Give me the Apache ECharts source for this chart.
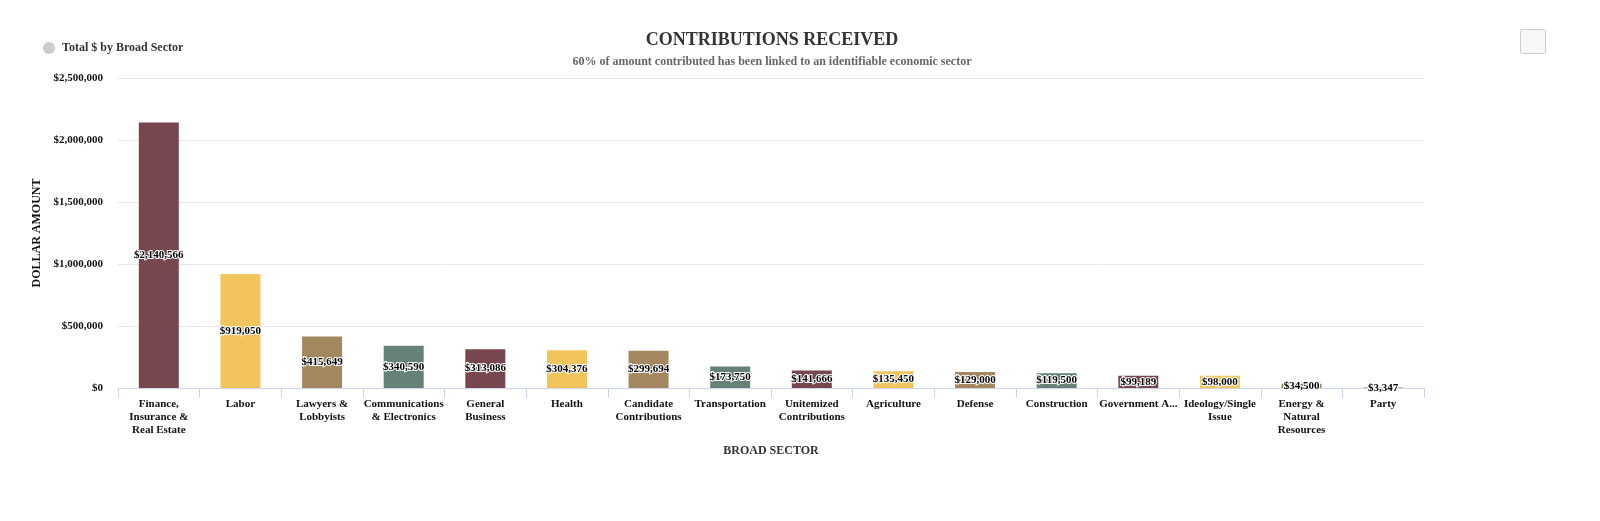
<!DOCTYPE html>
<html><head><meta charset="utf-8">
<script src="https://cdn.jsdelivr.net/npm/echarts@6/dist/echarts.min.js"></script>
<style>html,body{margin:0;padding:0;background:#fff}#c{width:1600px;height:521px}</style>
</head><body><div id="c"></div>
<script>
const categories = ["Finance,\nInsurance &\nReal Estate","Labor","Lawyers &\nLobbyists","Communications\n& Electronics","General\nBusiness","Health","Candidate\nContributions","Transportation","Unitemized\nContributions","Agriculture","Defense","Construction","Government A...","Ideology/Single\nIssue","Energy &\nNatural\nResources","Party"];
const values = [2140566,919050,415649,340590,313086,304376,299694,173750,141666,135450,129000,119500,99189,98000,34500,3347];
const palette = ["#77464f","#f2c45c","#a3885f","#668178"];
const yTicks = [0,500000,1000000,1500000,2000000,2500000];
const FONT = '"Liberation Serif", "Times New Roman", serif';
const fmt = v => '$' + v.toLocaleString('en-US');

const chart = echarts.init(document.getElementById('c'));
chart.setOption({
  animation:false,
  textStyle:{fontFamily:FONT},
  title:{
    text:'CONTRIBUTIONS RECEIVED',
    subtext:'60% of amount contributed has been linked to an identifiable economic sector',
    left:767, top:26, textAlign:'center',
    textStyle:{fontFamily:FONT,fontSize:18,fontWeight:'bold',color:'#333'},
    subtextStyle:{fontFamily:FONT,fontSize:12,fontWeight:'bold',color:'#666'},
    itemGap:7
  },
  legend:{
    left:38, top:37, icon:'circle', itemWidth:12, itemHeight:12, itemGap:6,
    data:[{name:'Total $ by Broad Sector',itemStyle:{color:'#cccccc'}}],
    textStyle:{fontFamily:FONT,fontSize:12,fontWeight:'bold',color:'#333',padding:[0,0,0,2]}
  },
  graphic:[{type:'rect',left:1520,top:29,shape:{width:25,height:24,r:2},style:{fill:'#f7f7f7',stroke:'#cccccc',lineWidth:1}}],
  grid:{left:118,right:176,top:78,bottom:133},
  xAxis:{
    type:'category', data:categories, name:'BROAD SECTOR', nameLocation:'middle', nameGap:57,
    nameTextStyle:{fontFamily:FONT,fontSize:12,fontWeight:'bold',color:'#333'},
    axisLine:{lineStyle:{color:'#ccd6eb'}},
    axisTick:{show:true,length:10,lineStyle:{color:'#ccd6eb'}},
    axisLabel:{interval:0,fontFamily:FONT,fontSize:11,fontWeight:'bold',color:'#111',lineHeight:13,margin:10}
  },
  yAxis:{
    type:'value', min:0, max:2500000, interval:500000,
    name:'DOLLAR AMOUNT', nameLocation:'middle', nameGap:73,
    nameTextStyle:{fontFamily:FONT,fontSize:12,fontWeight:'bold',color:'#111'},
    axisLabel:{fontFamily:FONT,fontSize:11,fontWeight:'bold',color:'#111',margin:15,
      formatter:v=>yTicks.includes(v)?fmt(v):''},
    splitLine:{lineStyle:{color:'#e6e6e6'}}
  },
  series:[{
    type:'bar', name:'Total $ by Broad Sector', barWidth:'49%',
    data:values.map((v,i)=>({value:v,itemStyle:{color:palette[i%4]}})),
    label:{show:true,position:'inside',formatter:p=>fmt(p.value),
      fontFamily:FONT,fontSize:11,fontWeight:'bold',color:'#000',
      textBorderColor:'#fff',textBorderWidth:2}
  }]
});
</script></body></html>
